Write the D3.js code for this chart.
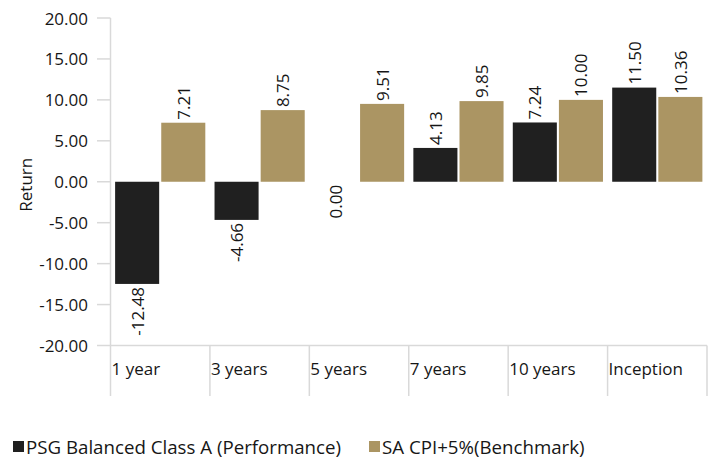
<!DOCTYPE html>
<html>
<head>
<meta charset="utf-8">
<script src="https://cdn.jsdelivr.net/npm/d3@7"></script>
<style>
  body { margin: 0; background: #fff; }
  text { font-family: "Open Sans", sans-serif; fill: #161616; }
</style>
</head>
<body>
<div id="chart"></div>
<script>
let categories = ['1 year', '3 years', '5 years', '7 years', '10 years', 'Inception'];
let seriesNames = ['PSG Balanced Class A (Performance)', 'SA CPI+5%(Benchmark)'];
let performance = [-12.48, -4.66, 0.00, 4.13, 7.24, 11.50];
let benchmark = [7.21, 8.75, 9.51, 9.85, 10.00, 10.36];
let yTicks = [-20, -15, -10, -5, 0, 5, 10, 15, 20];
let colors = ['#202020', '#ab9563'];

let width = 720, height = 459;

let svg = d3.select('#chart').append('svg')
    .attr('width', width)
    .attr('height', height);

let xScale = d3.scaleBand().domain(categories).range([110.5, 707]);
let inner = d3.scaleBand().domain([0, 1]).range([0, xScale.bandwidth()])
    .paddingInner(0.045).paddingOuter(0.1);
let yScale = d3.scaleLinear().domain([-20, 20]).range([345.5, 18]);

// y axis ticks + labels
let yAxis = svg.append('g');
yTicks.forEach(function(t){
    yAxis.append('line')
        .attr('x1', 97).attr('x2', 110.5)
        .attr('y1', yScale(t)).attr('y2', yScale(t))
        .attr('stroke', '#d9d9d9').attr('stroke-width', 1.5);
    yAxis.append('text')
        .text(t.toFixed(2))
        .attr('x', 88).attr('y', yScale(t))
        .attr('text-anchor', 'end')
        .attr('dominant-baseline', 'central')
        .style('font-size', '17px');
});
yAxis.append('line')
    .attr('x1', 110.5).attr('x2', 110.5)
    .attr('y1', yScale(20)).attr('y2', 396)
    .attr('stroke', '#d9d9d9').attr('stroke-width', 1.5);

svg.append('text')
    .text('Return')
    .attr('transform', 'translate(25,' + (yScale(0) + 3) + ') rotate(-90)')
    .attr('text-anchor', 'middle')
    .attr('dominant-baseline', 'central')
    .style('font-size', '17px');

// x axis (bottom line at -20 and category dividers)
let xAxis = svg.append('g');
xAxis.append('line')
    .attr('x1', 110.5).attr('x2', 707)
    .attr('y1', yScale(-20)).attr('y2', yScale(-20))
    .attr('stroke', '#d9d9d9').attr('stroke-width', 1.5);
categories.forEach(function(c, i){
    let x0 = xScale(c);
    let x1 = x0 + xScale.bandwidth();
    xAxis.append('line')
        .attr('x1', x1).attr('x2', x1)
        .attr('y1', yScale(-20)).attr('y2', 396)
        .attr('stroke', '#d9d9d9').attr('stroke-width', 1.5);
    xAxis.append('text')
        .text(c)
        .attr('x', x0 + 1).attr('y', 368)
        .attr('dominant-baseline', 'central')
        .style('font-size', '17px');
});

// bars
let data = [];
categories.forEach(function(c, i){
    data.push({cat: c, s: 0, v: performance[i]});
    data.push({cat: c, s: 1, v: benchmark[i]});
});

let bars = svg.append('g');
bars.selectAll('rect')
    .data(data)
    .enter()
    .append('rect')
    .attr('x', d => xScale(d.cat) + inner(d.s))
    .attr('width', inner.bandwidth())
    .attr('y', d => yScale(Math.max(0, d.v)))
    .attr('height', d => Math.abs(yScale(d.v) - yScale(0)))
    .attr('fill', d => colors[d.s]);

bars.selectAll('text')
    .data(data)
    .enter()
    .append('text')
    .text(d => d.v.toFixed(2))
    .attr('transform', function(d){
        let cx = xScale(d.cat) + inner(d.s) + inner.bandwidth() / 2;
        let cy = d.v > 0 ? yScale(d.v) - 3 : yScale(d.v) + 3;
        return 'translate(' + cx + ',' + cy + ') rotate(-90)';
    })
    .attr('text-anchor', d => d.v > 0 ? 'start' : 'end')
    .attr('dominant-baseline', 'central')
    .style('font-size', '17px');

// legend
let legend = svg.append('g');
let legendX = [13, 369];
seriesNames.forEach(function(name, i){
    legend.append('rect')
        .attr('x', legendX[i]).attr('y', 441)
        .attr('width', 11).attr('height', 11)
        .attr('fill', colors[i]);
    legend.append('text')
        .text(name)
        .attr('x', legendX[i] + 13).attr('y', 446.5)
        .attr('dominant-baseline', 'central')
        .style('font-size', '18.7px');
});
</script>
</body>
</html>
